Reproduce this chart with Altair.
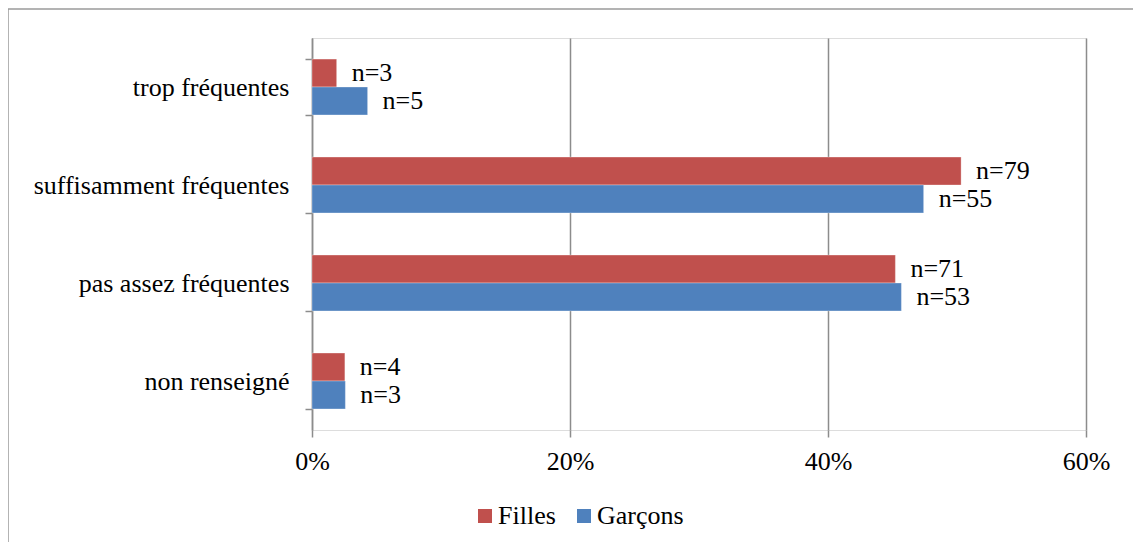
import altair as alt
import pandas as pd

categories = ["trop fréquentes", "suffisamment fréquentes", "pas assez fréquentes", "non renseigné"]
series = ["Filles", "Garçons"]
filles_n = [3, 79, 71, 4]
garcons_n = [5, 55, 53, 3]
filles_total = sum(filles_n)
garcons_total = sum(garcons_n)
x_ticks = [0, 0.2, 0.4, 0.6]
colors = ["#C0504D", "#4F81BD"]

rows = []
for c, f, g in zip(categories, filles_n, garcons_n):
    rows.append({"cat": c, "serie": "Filles", "pct": f / filles_total, "label": f"n={f}"})
    rows.append({"cat": c, "serie": "Garçons", "pct": g / garcons_total, "label": f"n={g}"})
df = pd.DataFrame(rows)

FONT = "Liberation Serif"
FS = 26

y_enc = alt.Y("cat:N", sort=categories, title=None,
              scale=alt.Scale(paddingInner=0.43, paddingOuter=0.215),
              axis=alt.Axis(domainColor="#8c8c8c", domainWidth=1.5, tickColor="#8c8c8c",
                            tickWidth=1.5, tickSize=7, tickBand="extent", labelPadding=16,
                            labelFont=FONT, labelFontSize=FS, labelColor="#000000",
                            labelLimit=0, grid=False))
yoff_enc = alt.YOffset("serie:N", sort=series, scale=alt.Scale(paddingInner=0, paddingOuter=0))
x_enc = alt.X("pct:Q", title=None,
              scale=alt.Scale(domain=[0, 0.6], nice=False),
              axis=alt.Axis(values=x_ticks, format=".0%", domain=False, grid=True,
                            gridColor="#8c8c8c", gridWidth=1.5, tickColor="#8c8c8c",
                            tickWidth=1.5, tickSize=7, labelPadding=11, labelFlush=False,
                            labelFont=FONT, labelFontSize=FS, labelColor="#000000"))

base = alt.Chart(df)
bars = base.mark_bar(stroke="white", strokeWidth=0.5, strokeOpacity=0.6).encode(
    y=y_enc, yOffset=yoff_enc, x=x_enc,
    color=alt.Color("serie:N", sort=series, title=None,
                    scale=alt.Scale(domain=series, range=colors),
                    legend=alt.Legend(orient="none", legendX=160, legendY=465,
                                      direction="horizontal", symbolType="square",
                                      symbolSize=196, symbolStrokeWidth=0,
                                      labelFont=FONT, labelFontSize=FS, labelColor="#000000",
                                      columnPadding=15, labelOffset=0, labelLimit=0)),
)
texts = base.mark_text(align="left", baseline="middle", dx=15, font=FONT, fontSize=FS,
                       color="#000000").encode(
    y=alt.Y("cat:N", sort=categories), yOffset=alt.YOffset("serie:N", sort=series),
    x=alt.X("pct:Q"), text="label:N")

frame = alt.Chart(pd.DataFrame({"a": [0]})).mark_rect(
    fillOpacity=0, stroke="#9a9a9a", strokeWidth=1.5).encode(
    x=alt.value(-304), x2=alt.value(900), y=alt.value(-29), y2=alt.value(560))

chart = alt.layer(frame, bars, texts).properties(
    width=774, height=392,
    autosize=alt.AutoSizeParams(type="none"),
    padding={"left": 304, "top": 30, "right": 47, "bottom": 112},
).configure_view(stroke=None).configure(background="white")

chart.save("out.html", embed_options={"renderer": "svg", "actions": False})
